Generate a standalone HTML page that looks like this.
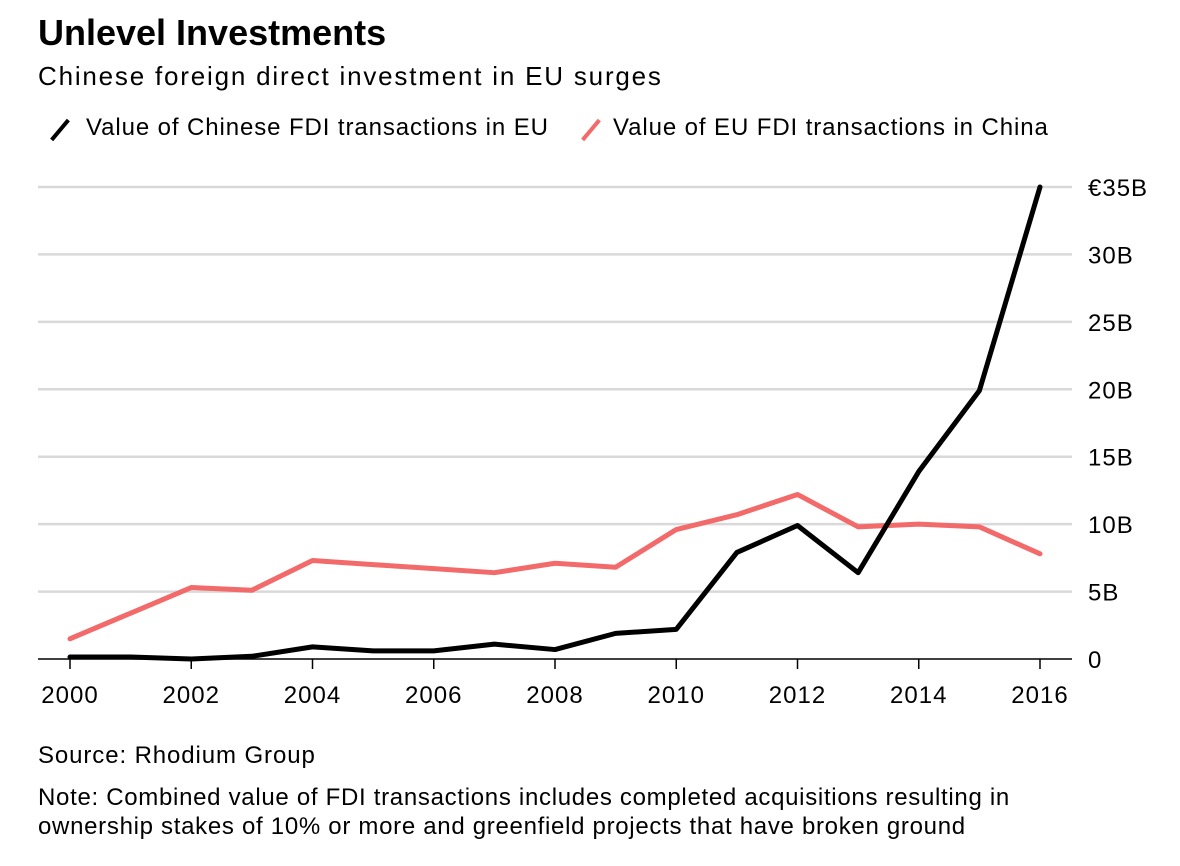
<!DOCTYPE html>
<html><head><meta charset="utf-8"><style>
body{margin:0;background:#fff;font-family:"Liberation Sans",Arial,sans-serif;color:#000;}
#wrap{position:relative;width:1180px;height:866px;overflow:hidden}
.t{position:absolute;white-space:nowrap}
</style></head><body>
<div id="wrap">
<div class="t" style="left:38px;top:12px;font-size:36px;font-weight:bold;letter-spacing:0px">Unlevel Investments</div>
<div class="t" style="left:38px;top:61px;font-size:26px;letter-spacing:1.8px">Chinese foreign direct investment in EU surges</div>
<div class="t" style="left:56px;top:114px;font-size:24px;letter-spacing:0.9px"><span style="position:absolute;left:2px;top:3px;width:4px;height:26px;background:#000;transform:rotate(40deg)"></span><span style="margin-left:30px">Value of Chinese FDI transactions in EU</span></div>
<div class="t" style="left:583px;top:114px;font-size:24px;letter-spacing:0.9px"><span style="position:absolute;left:6px;top:3px;width:4px;height:26px;background:#f26a6a;transform:rotate(40deg)"></span><span style="margin-left:30px">Value of EU FDI transactions in China</span></div>
<svg id="chart" width="1180" height="866" style="position:absolute;left:0;top:0"></svg>
<div class="t" style="left:38px;top:742px;font-size:24px;letter-spacing:0.9px">Source: Rhodium Group</div>
<div class="t" style="left:38px;top:783px;font-size:24px;line-height:29px;letter-spacing:0.7px">Note: Combined value of FDI transactions includes completed acquisitions resulting in<br>ownership stakes of 10% or more and greenfield projects that have broken ground</div>
</div>
<script>
const years=[2000,2001,2002,2003,2004,2005,2006,2007,2008,2009,2010,2011,2012,2013,2014,2015,2016];
const chineseFDI=[0.15,0.15,0,0.2,0.9,0.6,0.6,1.1,0.7,1.9,2.2,7.9,9.9,6.4,13.9,19.9,35];
const euFDI=[1.5,3.4,5.3,5.1,7.3,7.0,6.7,6.4,7.1,6.8,9.6,10.7,12.2,9.8,10.0,9.8,7.8];
const yTicks=[0,5,10,15,20,25,30,35];
const yTickLabels=["0","5B","10B","15B","20B","25B","30B","€35B"];
const xTicks=[2000,2002,2004,2006,2008,2010,2012,2014,2016];
const svg=document.getElementById('chart');
const NS='http://www.w3.org/2000/svg';
const x=v=>70+(v-2000)*(970/16);
const y=v=>659-v*(472/35);
function mk(tag,attrs){const e=document.createElementNS(NS,tag);for(const k in attrs)e.setAttribute(k,attrs[k]);svg.appendChild(e);return e;}
yTicks.forEach((t,i)=>{
  const l=mk('line',{x1:38,x2:1072,y1:y(t),y2:y(t),stroke:t===0?'#000':'#d9d9d9','stroke-width':t===0?1.5:2.5});
  
  
  const tx=mk('text',{x:1088,y:y(t)+9,'font-size':24,'letter-spacing':1,'font-family':'Liberation Sans, Arial, sans-serif'});
  tx.textContent=yTickLabels[i];
  
  
});
xTicks.forEach(t=>{
  const l=mk('line',{x1:x(t),x2:x(t),y1:659,y2:669,stroke:'#000','stroke-width':1.5});
  
  
  const tx=mk('text',{x:x(t),y:703,'font-size':24,'letter-spacing':1,'text-anchor':'middle','font-family':'Liberation Sans, Arial, sans-serif'});
  tx.textContent=t;
  
  
});
function line(vals,color,name){
  const p=mk('polyline',{points:vals.map((v,i)=>x(years[i])+','+y(v)).join(' '),fill:'none',stroke:color,'stroke-width':5,'stroke-linejoin':'round','stroke-linecap':'round'});
  
  
}
line(euFDI,'#f26a6a','eu-fdi-line');
line(chineseFDI,'#000','chinese-fdi-line');
</script>
</body></html>
